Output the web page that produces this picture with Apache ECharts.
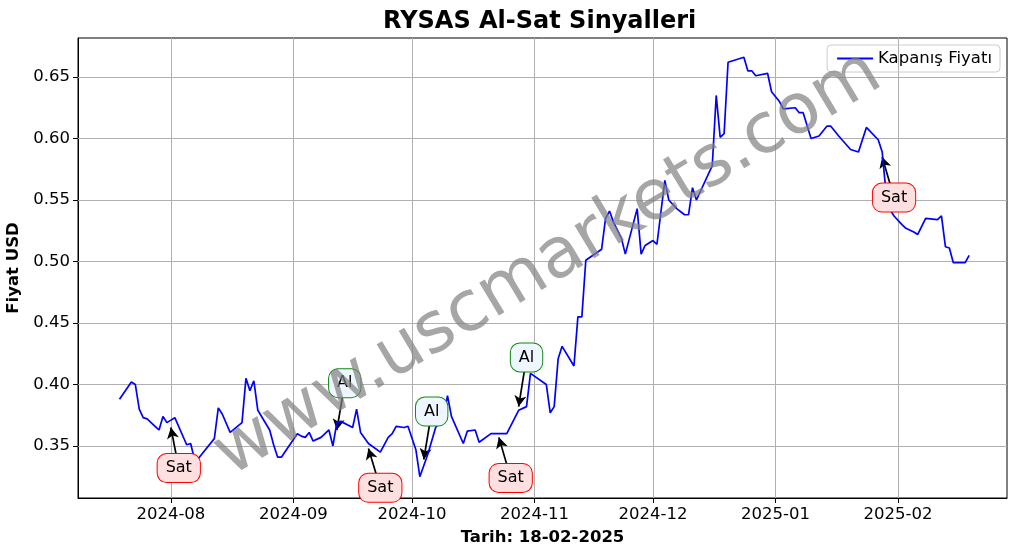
<!DOCTYPE html>
<html><head><meta charset="utf-8">
<script src="https://cdn.jsdelivr.net/npm/echarts@6/dist/echarts.min.js"></script>
<style>html,body{margin:0;padding:0;background:#fff}#c{width:1017px;height:554px}</style>
</head><body><div id="c"></div>
<script>
const dates = ['2024-07-19','2024-07-22','2024-07-23','2024-07-24','2024-07-25','2024-07-26','2024-07-28','2024-07-29','2024-07-30','2024-07-31','2024-08-01','2024-08-02','2024-08-05','2024-08-06','2024-08-07','2024-08-08','2024-08-12','2024-08-13','2024-08-14','2024-08-16','2024-08-19','2024-08-20','2024-08-21','2024-08-22','2024-08-23','2024-08-26','2024-08-27','2024-08-28','2024-08-29','2024-09-02','2024-09-03','2024-09-04','2024-09-05','2024-09-06','2024-09-08','2024-09-10','2024-09-11','2024-09-12','2024-09-13','2024-09-16','2024-09-17','2024-09-18','2024-09-20','2024-09-23','2024-09-25','2024-09-26','2024-09-27','2024-09-29','2024-09-30','2024-10-02','2024-10-03','2024-10-05','2024-10-07','2024-10-09','2024-10-10','2024-10-11','2024-10-14','2024-10-15','2024-10-17','2024-10-18','2024-10-21','2024-10-22','2024-10-25','2024-10-28','2024-10-30','2024-10-31','2024-11-04','2024-11-05','2024-11-06','2024-11-07','2024-11-08','2024-11-11','2024-11-12','2024-11-13','2024-11-14','2024-11-18','2024-11-19','2024-11-20','2024-11-21','2024-11-23','2024-11-24','2024-11-27','2024-11-28','2024-11-29','2024-12-01','2024-12-02','2024-12-04','2024-12-05','2024-12-07','2024-12-09','2024-12-10','2024-12-11','2024-12-12','2024-12-16','2024-12-17','2024-12-18','2024-12-19','2024-12-20','2024-12-24','2024-12-25','2024-12-26','2024-12-27','2024-12-30','2024-12-31','2025-01-02','2025-01-03','2025-01-06','2025-01-07','2025-01-08','2025-01-10','2025-01-12','2025-01-14','2025-01-15','2025-01-17','2025-01-20','2025-01-22','2025-01-24','2025-01-27','2025-01-28','2025-01-29','2025-01-30','2025-01-31','2025-02-02','2025-02-03','2025-02-05','2025-02-06','2025-02-08','2025-02-11','2025-02-12','2025-02-13','2025-02-14','2025-02-15','2025-02-18','2025-02-19'];
const prices = [0.388,0.402,0.400,0.380,0.373,0.372,0.366,0.363,0.374,0.369,0.371,0.373,0.351,0.352,0.339,0.340,0.356,0.381,0.376,0.361,0.369,0.405,0.395,0.403,0.379,0.363,0.351,0.341,0.341,0.360,0.358,0.357,0.361,0.354,0.357,0.363,0.350,0.369,0.370,0.365,0.380,0.361,0.352,0.345,0.357,0.360,0.366,0.365,0.366,0.347,0.325,0.343,0.365,0.373,0.391,0.374,0.352,0.362,0.363,0.353,0.360,0.360,0.360,0.379,0.382,0.409,0.400,0.377,0.382,0.421,0.431,0.415,0.455,0.455,0.501,0.510,0.535,0.541,0.532,0.519,0.506,0.543,0.506,0.513,0.517,0.514,0.566,0.550,0.543,0.538,0.538,0.560,0.550,0.578,0.635,0.601,0.604,0.662,0.666,0.655,0.655,0.651,0.653,0.638,0.630,0.624,0.625,0.621,0.621,0.600,0.602,0.610,0.610,0.602,0.591,0.589,0.609,0.599,0.589,0.555,0.542,0.537,0.530,0.527,0.524,0.522,0.535,0.534,0.537,0.512,0.511,0.499,0.499,0.505];
const tickLabels = ['2024-08','2024-09','2024-10','2024-11','2024-12','2025-01','2025-02'];
const yTicks = [0.35,0.40,0.45,0.50,0.55,0.60,0.65];
// signals: [label, tipDate, tipValue, textDate, textValue]
const signals = [
 ['Sat','2024-08-01',0.365,'2024-08-03',0.332],
 ['Al','2024-09-12',0.363,'2024-09-14',0.401],
 ['Sat','2024-09-20',0.348,'2024-09-23',0.316],
 ['Al','2024-10-04',0.339,'2024-10-06',0.378],
 ['Sat','2024-10-23',0.357,'2024-10-26',0.324],
 ['Al','2024-10-28',0.382,'2024-10-30',0.422],
 ['Sat','2025-01-28',0.585,'2025-01-31',0.552]
];
const ts = s => new Date(s + 'T00:00:00Z').getTime();
const font = 'DejaVu Sans';
const xMin = ts('2024-07-08')+43200000, xMax = ts('2025-02-28')+50400000;
const yMin = 0.3077, yMax = 0.6817;
const chart = echarts.init(document.getElementById('c'));
const arrows = signals.map(s => [
  {coord:[ts(s[3]), s[4]], symbol:'none', label:{show:false}},
  {coord:[ts(s[1]), s[2]], symbol:'arrow', symbolSize:[9,11]}
]);
const boxes = signals.map(s => {
  const sell = s[0] === 'Sat';
  return {coord:[ts(s[3]), s[4]], symbol:'rect', symbolSize:1, itemStyle:{color:'rgba(0,0,0,0)'},
    label:{show:true, position:'inside', formatter:s[0], color:'#000', fontFamily:font, fontSize:16,
      backgroundColor: sell ? '#ffe0e0' : '#eef6ff', borderColor: sell ? '#ff0000' : '#118811',
      borderWidth:1, borderRadius:9, padding:[7,8,5,8]}};
});
const monthTicks = tickLabels.map(t=>ts(t+'-01'));
const gridLines = monthTicks.map(t=>[{coord:[t,yMin], symbol:'none', lineStyle:{color:'#b0b0b0', width:1}, label:{show:false}},{coord:[t,yMax], symbol:'none'}])
  .concat(yTicks.map(v=>[{coord:[xMin,v], symbol:'none', lineStyle:{color:'#b0b0b0', width:1}, label:{show:false}},{coord:[xMax,v], symbol:'none'}]));
chart.setOption({
  animation:false,
  title:{text:'RYSAS Al-Sat Sinyalleri', left:378, top:5, textStyle:{fontFamily:font, fontSize:24, fontWeight:'bold', color:'#000'}},
  legend:{top:45, right:17, orient:'vertical', data:['Kapanış Fiyatı'], itemWidth:36, itemHeight:2, icon:'rect', itemGap:8,
    textStyle:{fontFamily:font, fontSize:16.5, color:'#000'}, borderColor:'#ccc', borderWidth:1, borderRadius:4, padding:[5,8,5,10]},
  grid:{left:78, right:10, top:38, bottom:56, containLabel:false, outerBoundsMode:'none', show:true, borderColor:'#000', borderWidth:1},
  xAxis:{type:'value', min:xMin, max:xMax,
    name:'Tarih: 18-02-2025', nameLocation:'middle', nameGap:31,
    nameTextStyle:{fontFamily:font, fontSize:16.5, fontWeight:'bold', color:'#000'},
    axisLine:{onZero:false, lineStyle:{color:'#000'}},
    axisTick:{show:true, customValues: monthTicks, length:5, lineStyle:{color:'#000'}},
    axisLabel:{customValues: monthTicks, formatter: v => { const d=new Date(v); return d.getUTCFullYear()+'-'+String(d.getUTCMonth()+1).padStart(2,'0'); }, fontFamily:font, fontSize:16.5, color:'#000', margin:8},
    splitLine:{show:false}},
  yAxis:{type:'value', min:yMin, max:yMax,
    name:'Fiyat USD', nameLocation:'middle', nameGap:52,
    nameTextStyle:{fontFamily:font, fontSize:16.5, fontWeight:'bold', color:'#000'},
    axisLine:{show:true, lineStyle:{color:'#000'}}, axisTick:{show:true, length:5, customValues:yTicks, lineStyle:{color:'#000'}},
    axisLabel:{fontFamily:font, fontSize:16.5, color:'#000', formatter:v=>v.toFixed(2), customValues:yTicks, margin:8},
    splitLine:{show:false}},
  graphic:[{type:'text', left:203, top:38, rotation:31*Math.PI/180, originX:0, originY:0,
    style:{text:'www.uscmarkets.com', font:'70px "DejaVu Sans"', fill:'rgba(128,128,128,0.7)'}, z:100}],
  series:[{name:'Kapanış Fiyatı', type:'line', showSymbol:false, symbol:'none', color:'#0000ff', lineStyle:{width:1.7},
    data: dates.map((d,i)=>[ts(d), prices[i]]),
    markLine:{silent:true, animation:false, z:3, lineStyle:{color:'#000', width:1.7, type:'solid'}, data: gridLines.concat(arrows)},
    markPoint:{silent:true, animation:false, z:5, data: boxes}}]
});
</script></body></html>
